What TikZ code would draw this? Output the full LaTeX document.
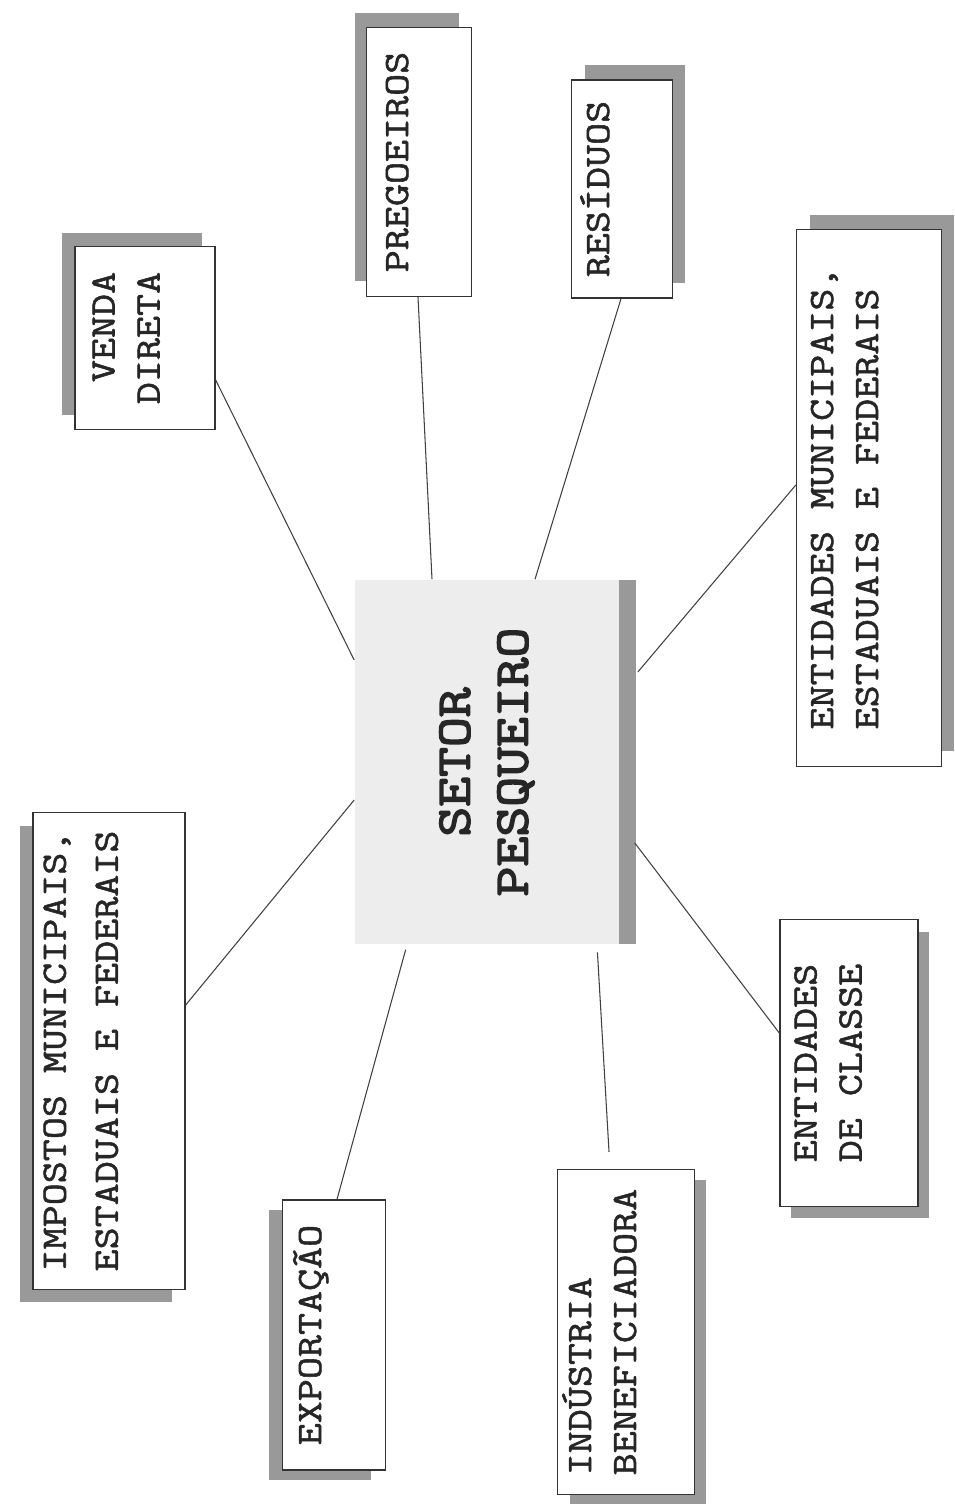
\documentclass[tikz,border=0pt]{standalone}
\usepackage{fontspec}
\setmonofont{Latin Modern Mono}[FakeStretch=1.2,FakeBold=1.5]
\newfontfamily\setorfont{Latin Modern Mono}[FakeStretch=1.2,FakeBold=3.2]
\usepackage{graphicx}
\usetikzlibrary{shadows,calc}
\newcommand{\rotlines}[3][l]{\rotatebox{90}{\begin{tabular}{@{}#1@{}}#2\end{tabular}}\hspace*{#3}}

\begin{document}
\begin{tikzpicture}[x=0.02cm,y=-0.02cm,
    box/.style={draw=black!80,line width=0.8pt,fill=white,inner sep=0pt,
        font=\ttfamily\fontsize{20.3}{25.6}\selectfont,text=black!85},
    shadowed/.style 2 args={drop shadow={shadow xshift=#1,shadow yshift=#2,fill=black!40,opacity=1}},
    link/.style={draw=black!75,line width=0.6pt}]
    \path[use as bounding box,fill=white] (0,0) rectangle (955,1510);
    %center
    \node[fill=gray!14,inner sep=0pt,minimum width=5.3cm,minimum height=7.3cm,
        shadowed={0.34cm}{0cm},text=black!85,
        font=\setorfont\fontsize{27.5}{33}\selectfont] (setor) at (487,762)
        {\rotatebox{90}{\begin{tabular}{@{}c@{}}SETOR\\PESQUEIRO\end{tabular}}};
    %boxes
    \node[box,shadowed={-0.26cm}{-0.26cm},minimum width=3.04cm,minimum height=9.54cm] (impostos) at (109,1051)
        {\rotlines{IMPOSTOS MUNICIPAIS,\\[4pt]ESTADUAIS E FEDERAIS}{1.05cm}};
    \node[box,shadowed={-0.26cm}{0.28cm},minimum width=2.8cm,minimum height=3.66cm] (venda) at (145,338)
        {\rotlines[r]{VENDA\\DIRETA}{0.68cm}};
    \node[box,shadowed={-0.24cm}{0.3cm},minimum width=2.1cm,minimum height=5.38cm] (pregoeiros) at (419,162)
        {\rotlines{PREGOEIROS}{0.8cm}};
    \node[box,shadowed={0.26cm}{0.3cm},minimum width=2.02cm,minimum height=4.36cm] (residuos) at (622,189)
        {\rotlines{RESÍDUOS}{0.88cm}};
    \node[box,shadowed={0.26cm}{0.3cm},minimum width=2.9cm,minimum height=10.74cm] (entmun) at (869,498)
        {\rotlines{ENTIDADES MUNICIPAIS,\\ESTADUAIS E FEDERAIS}{0.9cm}};
    \node[box,shadowed={0.22cm}{-0.24cm},minimum width=2.76cm,minimum height=5.74cm] (entclasse) at (849,1063)
        {\rotlines{ENTIDADES\\DE CLASSE}{0.76cm}};
    \node[box,shadowed={0.24cm}{-0.2cm},minimum width=2.74cm,minimum height=6.5cm] (indus) at (626,1332)
        {\rotlines{INDÚSTRIA\\BENEFICIADORA}{0.86cm}};
    \node[box,shadowed={-0.28cm}{-0.2cm},minimum width=2.06cm,minimum height=5.4cm] (export) at (334,1335)
        {\rotlines{EXPORTAÇÃO}{0.88cm}};
    %draw lines
    \draw[link] (venda.east |- 0,380) -- (setor.west |- 0,660);
    \draw[link] (pregoeiros.south -| 418,0) -- (setor.north -| 432,0);
    \draw[link] (residuos.south -| 621,0) -- (setor.north -| 535,0);
    \draw[link] (entmun.west |- 0,485) -- ($(setor.east |- 0,672)+(0.36cm,0)$);
    \draw[link] (entclasse.west |- 0,1033) -- ($(setor.east |- 0,843)+(0.3cm,0)$);
    \draw[link,shorten <=0.15cm,shorten >=0.34cm] (setor.south -| 597,0) -- (indus.north -| 610,0);
    \draw[link,shorten <=0.1cm] (setor.south -| 407,0) -- (export.north -| 337,0);
    \draw[link] (impostos.east |- 0,1005) -- (setor.west |- 0,800);
\end{tikzpicture}
\end{document}
